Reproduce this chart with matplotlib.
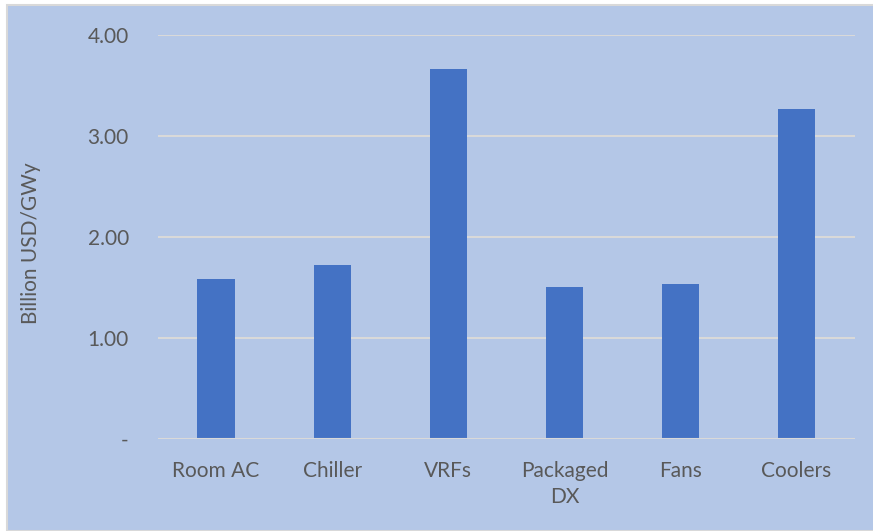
import matplotlib.pyplot as plt
from matplotlib.patches import Rectangle

# data
categories = ['Room AC', 'Chiller', 'VRFs', 'Packaged\nDX', 'Fans', 'Coolers']
values = [1.59, 1.72, 3.66, 1.51, 1.54, 3.27]
yticks = [0, 1, 2, 3, 4]
ytick_labels = ['-', '1.00', '2.00', '3.00', '4.00']

bg = '#B4C7E7'
bar_color = '#4472C4'
text_color = '#595959'

plt.rcParams['font.family'] = ['Lato', 'DejaVu Sans']

fig = plt.figure(figsize=(8.73, 5.31), dpi=100)
fig.patch.set_facecolor('white')
# chart area with thin grey border
fig.patches.append(Rectangle((0.008, 0.0), 1.0, 0.99, transform=fig.transFigure,
                             facecolor=bg, edgecolor='#D9D9D9', linewidth=1.5, zorder=-1))

ax = fig.add_axes([0.181, 0.173, 0.798, 0.761])
ax.set_facecolor(bg)
ax.patch.set_alpha(0)

x = range(len(categories))
ax.bar(x, values, width=0.32, color=bar_color, zorder=3)

ax.set_xlim(-0.5, len(categories) - 0.5)
ax.set_ylim(0, 4)
ax.set_yticks(yticks)
ax.set_yticklabels(ytick_labels)
ax.set_xticks(list(x))
ax.set_xticklabels(categories, linespacing=1.35)

ax.grid(axis='y', color='#D9D9D9', linewidth=1.5, zorder=0)
for s in ax.spines.values():
    s.set_visible(False)
ax.axhline(0, color='#D9D9D9', linewidth=1.5, zorder=4)

ax.tick_params(axis='both', length=0, labelsize=15, colors=text_color)
ax.tick_params(axis='y', pad=21)
ax.tick_params(axis='x', pad=16)

ax.set_ylabel('Billion USD/GWy', fontsize=15, color=text_color)
ax.yaxis.set_label_coords(0.047, 0.542, transform=fig.transFigure)

fig.savefig('out.png', dpi=100, facecolor=fig.get_facecolor())
